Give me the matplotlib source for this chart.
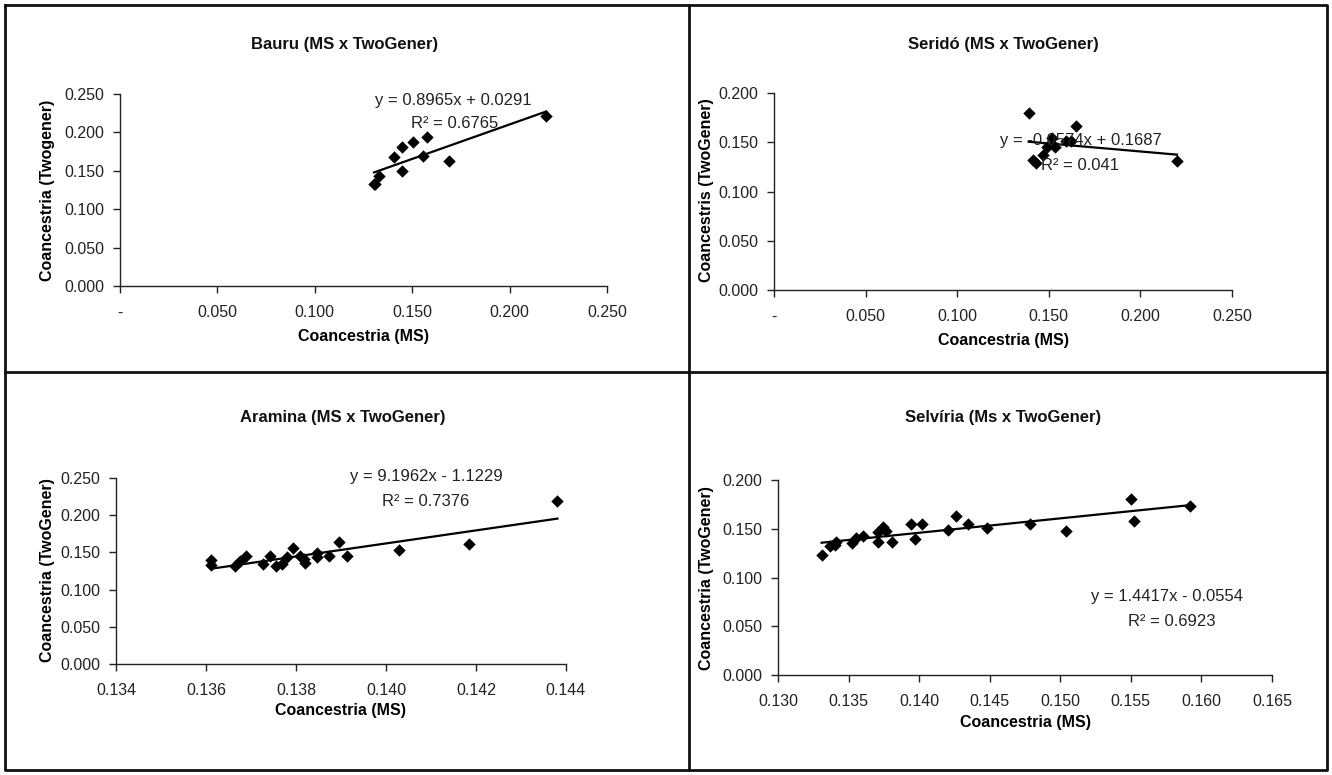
import matplotlib
matplotlib.use("Agg")
import matplotlib.pyplot as plt
import numpy as np
from matplotlib.lines import Line2D
from matplotlib.ticker import FuncFormatter

plt.rcParams["font.family"] = ["Liberation Sans", "DejaVu Sans"]

W, H = 1332, 775

# Bauru (MS x TwoGener)
bauru_ms = [0.1304, 0.1308, 0.1330, 0.1407, 0.1447, 0.1450, 0.1505, 0.1557, 0.1576, 0.1687, 0.2188]
bauru_tg = [0.1324, 0.1330, 0.1433, 0.1677, 0.1498, 0.1816, 0.1873, 0.1694, 0.1938, 0.1633, 0.2217]

# Seridó (MS x TwoGener)
serido_ms = [0.1390, 0.1520, 0.1651, 0.1592, 0.1623, 0.1490, 0.1536, 0.1468, 0.1414, 0.1432, 0.2200]
serido_tg = [0.1794, 0.1546, 0.1665, 0.1516, 0.1516, 0.1449, 0.1449, 0.1371, 0.1320, 0.1292, 0.1313]

# Aramina (MS x TwoGener)
aramina_ms = [0.13611, 0.13611, 0.13664, 0.13676, 0.13690, 0.13727, 0.13742, 0.13755,
              0.13768, 0.13779, 0.13793, 0.13809, 0.13818, 0.13820, 0.13847, 0.13847,
              0.13873, 0.13896, 0.13913, 0.14028, 0.14184, 0.14381]
aramina_tg = [0.1392, 0.1331, 0.1312, 0.1388, 0.1446, 0.1348, 0.1446, 0.1321,
              0.1348, 0.1438, 0.1554, 0.1456, 0.1411, 0.1358, 0.1492, 0.1433,
              0.1446, 0.1640, 0.1446, 0.1536, 0.1617, 0.2195]

# Selvíria (Ms x TwoGener)
selviria_ms = [0.13309, 0.13368, 0.13411, 0.13404, 0.13522, 0.13552, 0.13600, 0.13710,
               0.13710, 0.13741, 0.13765, 0.13805, 0.13942, 0.13970, 0.14018, 0.14202,
               0.14258, 0.14348, 0.14478, 0.14783, 0.15038, 0.15500, 0.15523, 0.15918]
selviria_tg = [0.1231, 0.1326, 0.1364, 0.1333, 0.1351, 0.1402, 0.1426, 0.1361,
               0.1470, 0.1515, 0.1480, 0.1367, 0.1549, 0.1395, 0.1549, 0.1490,
               0.1631, 0.1549, 0.1505, 0.1546, 0.1477, 0.1802, 0.1583, 0.1733]

equations = [
    ("y = 0.8965x + 0.0291", "R² = 0.6765"),
    ("y = -0.0574x + 0.1687", "R² = 0.041"),
    ("y = 9.1962x - 1.1229", "R² = 0.7376"),
    ("y = 1.4417x - 0.0554", "R² = 0.6923"),
]

titles = ["Bauru (MS x TwoGener)", "Seridó (MS x TwoGener)",
          "Aramina (MS x TwoGener)", "Selvíria (Ms x TwoGener)"]
ylabels = ["Coancestria (Twogener)", "Coancestris (TwoGener)",
           "Coancestria (TwoGener)", "Coancestria (TwoGener)"]

x_ticks = [np.arange(0, 0.2501, 0.05), np.arange(0, 0.2501, 0.05),
           np.arange(0.134, 0.14401, 0.002), np.arange(0.130, 0.16501, 0.005)]
y_ticks = [np.arange(0, 0.2501, 0.05), np.arange(0, 0.2001, 0.05),
           np.arange(0, 0.2501, 0.05), np.arange(0, 0.2001, 0.05)]

# plot areas in pixels: left, top, right, bottom
boxes = [(120, 94, 607, 286), (774, 93, 1232, 290),
         (116, 478, 566, 664), (778, 480, 1272, 675)]
title_pos = [(345, 44), (1003, 44), (343, 418), (1003, 418)]
xlabel_pos = [(363, 337), (1003, 341), (341, 711), (1025, 722)]
ylabel_pos = [(48, 190), (706, 190), (48, 570), (706, 578)]
eq_pos = [((453, 100), (455, 124)), ((1081, 140), (1080, 165)),
          ((426, 477), (426, 501)), ((1167, 596), (1172, 622))]

series = [(bauru_ms, bauru_tg), (serido_ms, serido_tg),
          (aramina_ms, aramina_tg), (selviria_ms, selviria_tg)]


def fx(px):
    return px / W


def fy(py):
    return 1 - py / H


def fmt_x(v, _):
    return "-" if abs(v) < 1e-9 else f"{v:.3f}"


def fmt_y(v, _):
    return f"{v:.3f}"


fig = plt.figure(figsize=(W / 100, H / 100), dpi=100)

for i in range(4):
    l, t, r, b = boxes[i]
    ax = fig.add_axes([fx(l), fy(b), (r - l) / W, (b - t) / H])
    xs, ys = np.array(series[i][0]), np.array(series[i][1])
    ax.scatter(xs, ys, marker="D", s=40, color="black", zorder=3, linewidths=0)
    slope, icpt = np.polyfit(xs, ys, 1)
    xl = np.array([xs.min(), xs.max()])
    ax.plot(xl, slope * xl + icpt, color="black", lw=1.6, zorder=2)

    ax.set_xlim(x_ticks[i][0], x_ticks[i][-1])
    ax.set_ylim(y_ticks[i][0], y_ticks[i][-1])
    ax.set_xticks(x_ticks[i])
    ax.set_yticks(y_ticks[i])
    ax.xaxis.set_major_formatter(FuncFormatter(fmt_x if i < 2 else fmt_y))
    ax.yaxis.set_major_formatter(FuncFormatter(fmt_y))
    for s in ("top", "right"):
        ax.spines[s].set_visible(False)
    for s in ("left", "bottom"):
        ax.spines[s].set_linewidth(1.0)
        ax.spines[s].set_color("#222222")
    ax.tick_params(direction="out", length=5, width=1.0, color="#222222",
                   labelsize=11.5, labelcolor="#222222", pad=6)
    ax.tick_params(axis="x", pad=9)
    ax.set_facecolor("none")

    ax.set_xlabel("Coancestria (MS)", fontsize=11.5, fontweight="bold")
    ax.set_ylabel(ylabels[i], fontsize=11.5, fontweight="bold")
    inv = ax.transAxes.inverted()
    px, py = xlabel_pos[i]
    ax.xaxis.set_label_coords(*inv.transform(fig.transFigure.transform((fx(px), fy(py)))))
    ax.xaxis.label.set_va("center")
    px, py = ylabel_pos[i]
    ax.yaxis.set_label_coords(*inv.transform(fig.transFigure.transform((fx(px), fy(py)))))
    ax.yaxis.label.set_va("center")

    tx, ty = title_pos[i]
    fig.text(fx(tx), fy(ty), titles[i], ha="center", va="center",
             fontsize=12, fontweight="bold", color="#111111")
    for line, (ex, ey) in zip(equations[i], eq_pos[i]):
        fig.text(fx(ex), fy(ey), line, ha="center", va="center",
                 fontsize=12, color="#222222", zorder=5)

# panel frame
frame = dict(color="#111111", lw=2.0)
fig.add_artist(Line2D([fx(5), fx(1327), fx(1327), fx(5), fx(5)],
                      [fy(5), fy(5), fy(770), fy(770), fy(5)], **frame))
fig.add_artist(Line2D([fx(689), fx(689)], [fy(5), fy(770)], **frame))
fig.add_artist(Line2D([fx(5), fx(1327)], [fy(372), fy(372)], **frame))

fig.savefig("out.png", dpi=100)
